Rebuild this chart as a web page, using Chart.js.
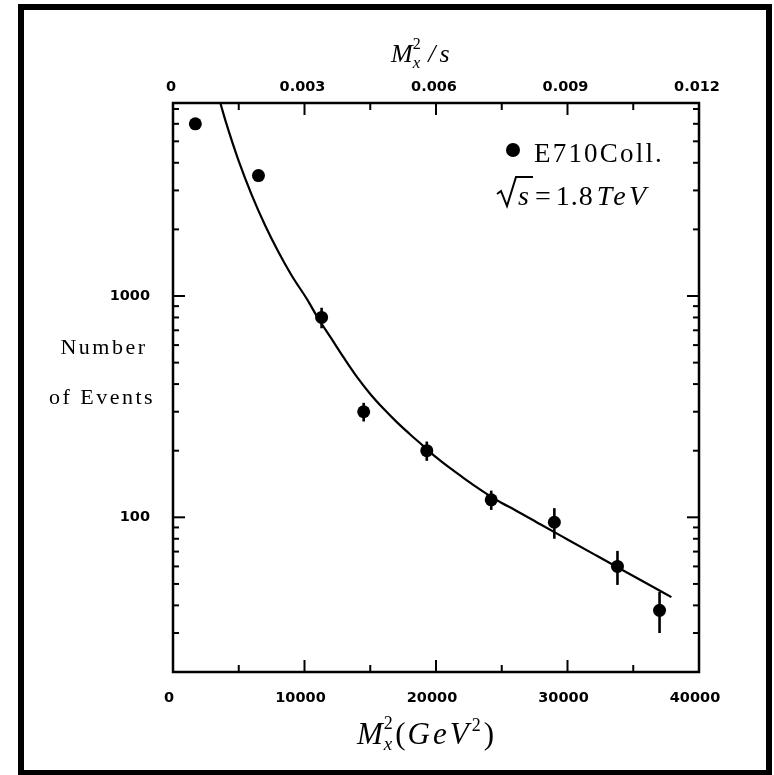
<!DOCTYPE html>
<html>
<head>
<meta charset="utf-8">
<script src="https://cdn.jsdelivr.net/npm/chart.js@4.4.1/dist/chart.umd.min.js"></script>
<style>
  html, body { margin: 0; padding: 0; background: #fff; }
</style>
</head>
<body>
<canvas id="evChart" width="774" height="775"></canvas>
<script>
// E710 diffraction sample: event counts vs M_x^2 (GeV^2)
const massSq = [1700, 6500, 11300, 14500, 19300, 24200, 29000, 33800, 37000];
const events = [6000, 3500, 800, 300, 200, 120, 95, 60, 38];
const eventsErr = [0, 0, 85, 29, 20, 12, 15, 10.5, 8];

// fitted curve
const fitX = [3600, 4000, 5000, 6000, 7000, 8000, 9000, 10200, 11000, 12000, 13000, 14000, 15000, 16000, 17000, 18000, 19000,
  20000, 21000, 22000, 23000, 24000, 25000, 26000, 28000, 30000, 32000, 34000, 36000, 37900];
const fitY = [7450, 6170, 4070, 2850, 2090, 1590, 1245, 965, 800, 648, 525, 430, 361, 310, 270, 238, 211,
  187, 168, 152, 138, 126, 116, 108, 92.5, 79.4, 68.2, 58.6, 50.4, 43.6];

// axes
const xMajor = [0, 10000, 20000, 30000, 40000];
const xMinor = [5000, 15000, 25000, 35000];
const topMajor = [0, 0.003, 0.006, 0.009, 0.012];
const topLabels = ['0', '0.003', '0.006', '0.009', '0.012'];
const yMajor = [100, 1000];
const yMinor = [20, 30, 40, 50, 60, 70, 80, 90, 200, 300, 400, 500, 600, 700, 800, 900, 2000, 3000, 4000, 5000, 6000, 7000];

const SERIF = '"Liberation Serif", "Times New Roman", serif';
const tickFont = { family: '"DejaVu Sans", sans-serif', size: 14.5, weight: 'bold' };

function textRun(ctx, parts, x, y) {
  // parts: [{t, font, dy, sp, gap, stack}] drawn left to right
  let cx = x;
  parts.forEach(p => {
    ctx.font = p.font;
    ctx.letterSpacing = (p.sp || 0) + 'px';
    ctx.fillText(p.t, cx, y + (p.dy || 0));
    if (!p.stack) cx += ctx.measureText(p.t).width + (p.gap || 0);
  });
  ctx.letterSpacing = '0px';
  return cx;
}

const decor = {
  id: 'decor',
  afterDatasetsDraw(chart) {
    const { ctx, chartArea: a, scales: { x, y } } = chart;
    ctx.save();
    ctx.strokeStyle = '#000';
    ctx.fillStyle = '#000';
    const seg = (x1, y1, x2, y2) => { ctx.beginPath(); ctx.moveTo(x1, y1); ctx.lineTo(x2, y2); ctx.stroke(); };

    // error bars
    ctx.lineWidth = 2.6;
    massSq.forEach((m, i) => {
      if (!eventsErr[i]) return;
      const px = x.getPixelForValue(m);
      seg(px, y.getPixelForValue(events[i] + eventsErr[i]), px, y.getPixelForValue(events[i] - eventsErr[i]));
    });

    // plot frame
    ctx.lineWidth = 2.5;
    ctx.strokeRect(a.left, a.top, a.width, a.height);

    // inward ticks
    ctx.lineWidth = 2;
    xMajor.forEach(v => { const p = x.getPixelForValue(v); seg(p, a.bottom, p, a.bottom - 12); seg(p, a.top, p, a.top + 12); });
    xMinor.forEach(v => { const p = x.getPixelForValue(v); seg(p, a.bottom, p, a.bottom - 7); seg(p, a.top, p, a.top + 7); });
    yMajor.forEach(v => { const p = y.getPixelForValue(v); seg(a.left, p, a.left + 12, p); seg(a.right, p, a.right - 12, p); });
    yMinor.forEach(v => { const p = y.getPixelForValue(v); seg(a.left, p, a.left + 6, p); seg(a.right, p, a.right - 6, p); });

    // y title
    ctx.textBaseline = 'alphabetic';
    ctx.textAlign = 'center';
    ctx.font = '22px ' + SERIF;
    ctx.letterSpacing = '2.5px';
    ctx.fillText('Number', 104, 354);
    ctx.fillText('of Events', 102, 404);
    ctx.letterSpacing = '0px';
    ctx.textAlign = 'left';

    // top title  M_x^2 / s
    const it = 'italic 26px ' + SERIF;
    textRun(ctx, [
      { t: 'M', font: it, gap: 0 },
      { t: '2', font: '16px ' + SERIF, dy: -13, stack: true },
      { t: 'x', font: 'italic 17px ' + SERIF, dy: 6, gap: 8 },
      { t: '/', font: it, gap: 4 },
      { t: 's', font: it }
    ], 391, 62);

    // bottom title  M_x^2 (GeV^2)
    const it2 = 'italic 31px ' + SERIF;
    textRun(ctx, [
      { t: 'M', font: it2, gap: 1 },
      { t: '2', font: '18px ' + SERIF, dy: -15, stack: true },
      { t: 'x', font: 'italic 19px ' + SERIF, dy: 6, gap: 3 },
      { t: '(', font: '31px ' + SERIF, gap: 2 },
      { t: 'GeV', font: it2, sp: 3 },
      { t: '2', font: '18px ' + SERIF, dy: -13, gap: 3 },
      { t: ')', font: '31px ' + SERIF }
    ], 357, 744);

    // legend
    ctx.beginPath();
    ctx.arc(513, 150, 7, 0, Math.PI * 2);
    ctx.fill();
    textRun(ctx, [{ t: 'E710Coll.', font: '27px ' + SERIF, sp: 2.2 }], 534, 162);

    // sqrt(s) = 1.8 TeV
    const rx = 497, rb = 205;
    ctx.lineWidth = 2;
    ctx.beginPath();
    ctx.moveTo(rx, rb - 11);
    ctx.lineTo(rx + 4, rb - 14);
    ctx.lineTo(rx + 10, rb + 1);
    ctx.lineTo(rx + 19, rb - 28);
    ctx.lineTo(rx + 36, rb - 28);
    ctx.stroke();
    textRun(ctx, [
      { t: 's', font: 'italic 28px ' + SERIF, gap: 6 },
      { t: '=', font: '28px ' + SERIF, gap: 5 },
      { t: '1.8', font: '28px ' + SERIF, sp: 1, gap: 3 },
      { t: 'TeV', font: 'italic 28px ' + SERIF, sp: 3.5 }
    ], rx + 21, rb);

    // outer frame
    ctx.lineWidth = 6;
    ctx.strokeRect(21, 7, 748, 766);
    ctx.restore();
  }
};

new Chart(document.getElementById('evChart'), {
  data: {
    datasets: [
      {
        type: 'scatter',
        data: massSq.map((m, i) => ({ x: m, y: events[i] })),
        pointRadius: 6.5,
        pointBackgroundColor: '#000',
        pointBorderWidth: 0,
        order: 0
      },
      {
        type: 'line',
        data: fitX.map((m, i) => ({ x: m, y: fitY[i] })),
        borderColor: '#000',
        borderWidth: 2.2,
        pointRadius: 0,
        cubicInterpolationMode: 'monotone',
        order: 1
      }
    ]
  },
  options: {
    responsive: false,
    animation: false,
    devicePixelRatio: 1,
    layout: { padding: { right: 75 } },
    plugins: { legend: { display: false }, tooltip: { enabled: false } },
    scales: {
      x: {
        type: 'linear', position: 'bottom', min: 0, max: 40000,
        afterBuildTicks: s => { s.ticks = xMajor.map(v => ({ value: v })); },
        afterFit: s => { s.height = 103; },
        grid: { display: false, drawTicks: false },
        border: { display: false },
        ticks: { padding: 18, labelOffset: -4, color: '#000', font: tickFont, maxRotation: 0, autoSkip: false, callback: v => String(v) }
      },
      x2: {
        type: 'linear', position: 'top', min: 0, max: 0.012,
        afterBuildTicks: s => { s.ticks = topMajor.map(v => ({ value: v })); },
        afterFit: s => { s.height = 103; },
        grid: { display: false, drawTicks: false },
        border: { display: false },
        ticks: { padding: 7, labelOffset: -2, color: '#000', font: tickFont, maxRotation: 0, autoSkip: false, callback: (v, i) => topLabels[i] }
      },
      y: {
        type: 'logarithmic', position: 'left', min: 20, max: 7450,
        afterBuildTicks: s => { s.ticks = yMajor.map(v => ({ value: v })); },
        afterFit: s => { s.width = 173; },
        grid: { display: false, drawTicks: false },
        border: { display: false },
        ticks: { padding: 23, color: '#000', font: tickFont, autoSkip: false, callback: v => String(v) }
      }
    }
  },
  plugins: [decor]
});
</script>
</body>
</html>
